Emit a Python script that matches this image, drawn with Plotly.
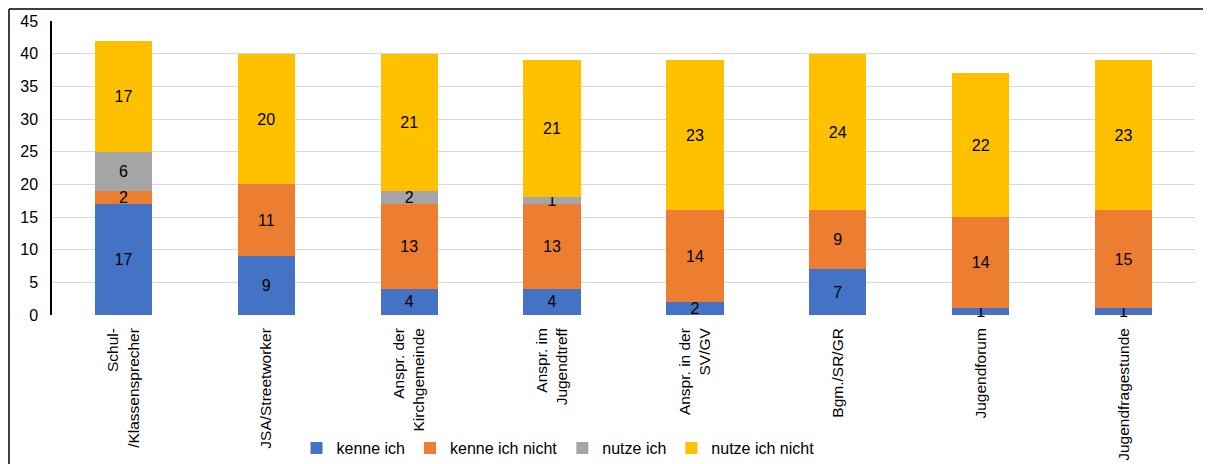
import plotly.graph_objects as go

categories = ["Schul-<br>/Klassensprecher", "JSA/Streetworker", "Anspr. der<br>Kirchgemeinde",
              "Anspr. im<br>Jugendtreff", "Anspr. in der<br>SV/GV", "Bgm./SR/GR",
              "Jugendforum", "Jugendfragestunde"]
kenne_ich = [17, 9, 4, 4, 2, 7, 1, 1]
kenne_ich_nicht = [2, 11, 13, 13, 14, 9, 14, 15]
nutze_ich = [6, 0, 2, 1, 0, 0, 0, 0]
nutze_ich_nicht = [17, 20, 21, 21, 23, 24, 22, 23]

series = [
    ("kenne ich", kenne_ich, "#4472C4"),
    ("kenne ich nicht", kenne_ich_nicht, "#ED7D31"),
    ("nutze ich", nutze_ich, "#A5A5A5"),
    ("nutze ich nicht", nutze_ich_nicht, "#FFC000"),
]

FONT = "Liberation Sans, Arial, sans-serif"
FS = 16
fig = go.Figure()
for name, vals, color in series:
    fig.add_trace(go.Bar(
        name=name, x=categories, y=vals,
        marker=dict(color=color, line=dict(width=0)),
        text=[str(v) if v else "" for v in vals],
        textposition="inside", insidetextanchor="middle", textangle=0,
        textfont=dict(family=FONT, size=FS, color="#000000"),
        cliponaxis=False,
    ))

# page body has an 8px margin, so figure pixels = page pixels - 8
OFF = 8
W, H = 1211 - OFF, 464 - OFF
L, R, T, B = 52 - OFF, 16, 21 - OFF, 149
pw, ph = W - L - R, H - T - B

def px_x(x):
    return (x - OFF - L) / pw

def px_y(y):
    return (H - B - (y - OFF)) / ph

fig.update_layout(
    width=W, height=H,
    barmode="stack", bargap=0.6,
    margin=dict(l=L, r=R, t=T, b=B, autoexpand=False),
    paper_bgcolor="white", plot_bgcolor="white",
    font=dict(family=FONT, size=FS, color="#000000"),
    uniformtext=dict(minsize=FS, mode="show"),
    showlegend=True,
    legend=dict(orientation="h", x=px_x(558), xanchor="center", y=px_y(448), yanchor="middle",
                traceorder="normal",
                font=dict(family=FONT, size=FS, color="#000000"),
                bgcolor="rgba(0,0,0,0)", itemwidth=30, tracegroupgap=0),
    xaxis=dict(tickangle=-90, showgrid=False, showline=False, ticks="", automargin=False,
               ticklabelstandoff=9,
               tickfont=dict(family=FONT, size=15.5, color="#000000")),
    yaxis=dict(range=[0, 45], dtick=5, showgrid=True, gridcolor="#D9D9D9", gridwidth=1,
               showline=True, linecolor="#000000", linewidth=1.5, ticks="", zeroline=False,
               automargin=False, ticklabelstandoff=9,
               tickfont=dict(family=FONT, size=FS, color="#000000")),
    shapes=[
        dict(type="line", xref="paper", yref="paper", x0=px_x(9), x1=px_x(1215),
             y0=px_y(9), y1=px_y(9), line=dict(color="#000000", width=1.5)),
        dict(type="line", xref="paper", yref="paper", x0=px_x(9), x1=px_x(9),
             y0=px_y(9), y1=px_y(470), line=dict(color="#000000", width=1.5)),
    ],
)

fig.write_html("out.html")
